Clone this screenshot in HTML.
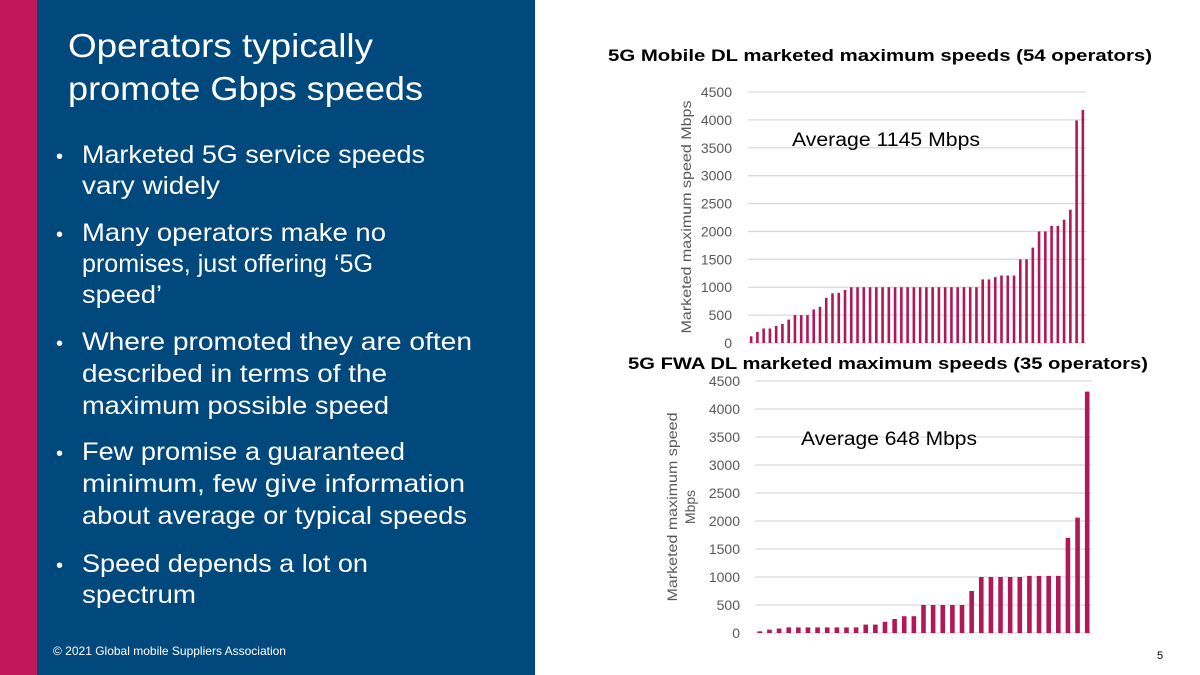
<!DOCTYPE html>
<html><head><meta charset="utf-8"><style>
html,body{margin:0;padding:0;width:1200px;height:675px;overflow:hidden;background:#fff;font-family:"Liberation Sans",sans-serif}
svg text{font-family:"Liberation Sans",sans-serif}
</style></head><body>
<svg width="1200" height="675" viewBox="0 0 1200 675" xmlns="http://www.w3.org/2000/svg">
<rect x="0" y="0" width="38" height="675" fill="#C2185B"/>
<rect x="37" y="0" width="498" height="675" fill="#01497C"/>
<g fill="#fff" font-size="33">
<text x="68" y="57" textLength="305" lengthAdjust="spacingAndGlyphs">Operators typically</text><text x="68" y="100" textLength="355" lengthAdjust="spacingAndGlyphs">promote Gbps speeds</text></g>
<g fill="#fff" font-size="25">
<text x="56" y="163" font-size="20">•</text><text x="82" y="163" textLength="343" lengthAdjust="spacingAndGlyphs">Marketed 5G service speeds</text><text x="82" y="194" textLength="138" lengthAdjust="spacingAndGlyphs">vary widely</text>
<text x="56" y="241" font-size="20">•</text><text x="82" y="241" textLength="304" lengthAdjust="spacingAndGlyphs">Many operators make no</text><text x="82" y="272" textLength="291" lengthAdjust="spacingAndGlyphs">promises, just offering ‘5G</text><text x="82" y="303" textLength="80" lengthAdjust="spacingAndGlyphs">speed’</text>
<text x="56" y="350" font-size="20">•</text><text x="82" y="350" textLength="390" lengthAdjust="spacingAndGlyphs">Where promoted they are often</text><text x="82" y="382" textLength="305" lengthAdjust="spacingAndGlyphs">described in terms of the</text><text x="82" y="414" textLength="307" lengthAdjust="spacingAndGlyphs">maximum possible speed</text>
<text x="56" y="460" font-size="20">•</text><text x="82" y="460" textLength="323" lengthAdjust="spacingAndGlyphs">Few promise a guaranteed</text><text x="82" y="492" textLength="383" lengthAdjust="spacingAndGlyphs">minimum, few give information</text><text x="82" y="524" textLength="385" lengthAdjust="spacingAndGlyphs">about average or typical speeds</text>
<text x="56" y="572" font-size="20">•</text><text x="82" y="572" textLength="286" lengthAdjust="spacingAndGlyphs">Speed depends a lot on</text><text x="82" y="603" textLength="114" lengthAdjust="spacingAndGlyphs">spectrum</text></g>
<text x="53" y="655" fill="#fff" font-size="12">© 2021 Global mobile Suppliers Association</text>
<text x="1157" y="659" fill="#000" font-size="11">5</text>
<g id="c1"></g><g id="c2"></g>
</svg>
<script>
const mobileValues=[120,200,260,260,305,340,420,500,500,500,600,650,810,890,900,950,1000,1000,1000,1000,1000,1000,1000,1000,1000,1000,1000,1000,1000,1000,1000,1000,1000,1000,1000,1000,1000,1140,1140,1180,1210,1210,1210,1500,1500,1710,2000,2000,2100,2100,2210,2390,3990,4180];
const fwaValues=[30,60,80,100,100,100,100,100,100,100,100,150,150,200,250,300,300,500,500,500,500,500,750,1000,1000,1000,1000,1000,1020,1020,1020,1020,1700,2060,4310];
const tickLabels=[0,500,1000,1500,2000,2500,3000,3500,4000,4500];
const NS="http://www.w3.org/2000/svg";
function mk(p,tag,a){const e=document.createElementNS(NS,tag);for(const k in a)e.setAttribute(k,a[k]);p.appendChild(e);return e;}
function chart(g,vals,o){
  const y=v=>o.y0-(v/4500)*(o.y0-o.yt);
  const band=(o.x1-o.x0)/vals.length;
  tickLabels.forEach(t=>{
    const l=mk(g,'line',{x1:o.x0,x2:o.x1,y1:y(t),y2:y(t),stroke:'#d9d9d9','stroke-width':1.3});
    
    
    const tx=mk(g,'text',{x:o.lx,y:y(t)+5,'text-anchor':'end','font-size':14,fill:'#595959'});
    tx.textContent=t;
    
    
  });
  vals.forEach((v,i)=>{
    const r=mk(g,'rect',{x:o.x0+band*i+(band-o.bw)/2,y:y(v),width:o.bw,height:o.y0-y(v),fill:'#B0185A'});
    
    
  });
  const ti=mk(g,'text',{x:o.tx,y:o.ty,'font-size':17,'font-weight':'bold',fill:'#000',textLength:o.tw,lengthAdjust:'spacingAndGlyphs'});
  ti.textContent=o.title;
  
  
  const an=mk(g,'text',{x:o.ax,y:o.ay,'font-size':19,fill:'#000',textLength:o.aw,lengthAdjust:'spacingAndGlyphs'});
  an.textContent=o.avg;
  
  
  o.ytitle.forEach((s,k)=>{
    const cx=o.yx+k*18, cy=o.yc;
    const yt=mk(g,'text',{x:cx,y:cy,'text-anchor':'middle','font-size':14,fill:'#595959',transform:`rotate(-90 ${cx} ${cy})`,textLength:o.yw[k],lengthAdjust:'spacingAndGlyphs'});
    yt.textContent=s;
    
    
  });
}
chart(document.getElementById('c1'),mobileValues,{x0:748,x1:1086,y0:343,yt:92,lx:732,bw:2.6,title:'5G Mobile DL marketed maximum speeds (54 operators)',tx:608,ty:61,tw:544,avg:'Average 1145 Mbps',ax:792,ay:146,aw:188,ytitle:['Marketed maximum speed Mbps'],yx:691,yc:217,yw:[233]});
chart(document.getElementById('c2'),fwaValues,{x0:755,x1:1092,y0:633,yt:381,lx:740,bw:4.6,title:'5G FWA DL marketed maximum speeds (35 operators)',tx:628,ty:369,tw:520,avg:'Average 648 Mbps',ax:801,ay:445,aw:176,ytitle:['Marketed maximum speed','Mbps'],yx:677,yc:507,yw:[189,34]});
document.getElementById('c1');
document.getElementById('c1');
document.getElementById('c2');
document.getElementById('c2');
</script>
</body></html>
